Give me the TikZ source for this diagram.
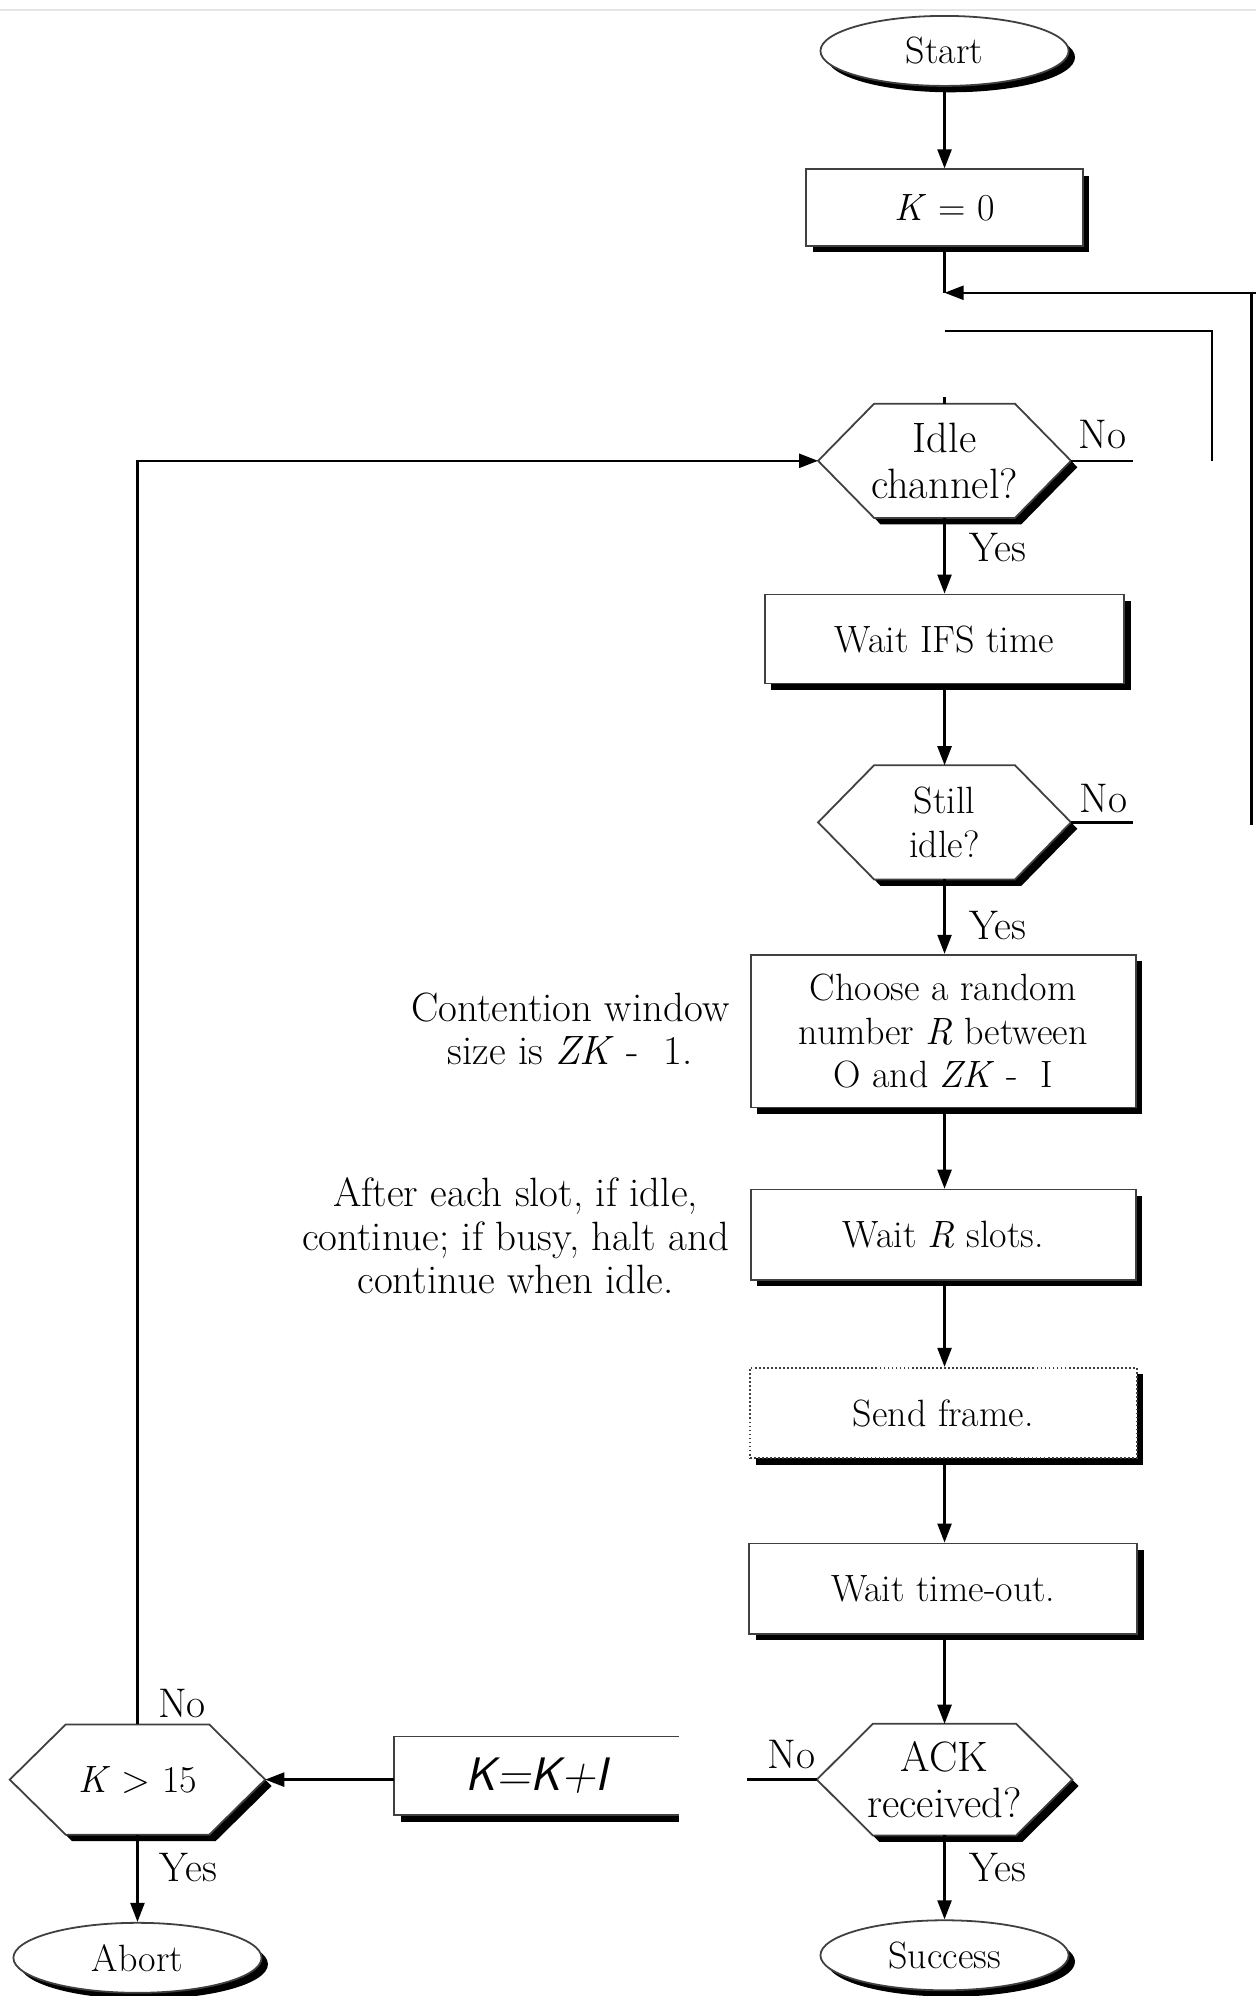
\documentclass[tikz,border=0pt]{standalone}
\usetikzlibrary{shapes.geometric,arrows.meta,shadows,backgrounds,calc}
\newcommand\hexshape[1]{%
  \fill[black] ([shift={(0.1cm,-0.1cm)}]#1.west) -- ([shift={(0.98cm,-0.1cm)}]#1.north west) -- ([shift={(-0.78cm,-0.1cm)}]#1.north east) -- ([shift={(0.1cm,-0.1cm)}]#1.east) -- ([shift={(-0.78cm,-0.1cm)}]#1.south east) -- ([shift={(0.98cm,-0.1cm)}]#1.south west) -- cycle;
  \filldraw[fill=white, draw=black!75, line width=0.8pt] (#1.west) -- ([xshift=0.88cm]#1.north west) -- ([xshift=-0.88cm]#1.north east) -- (#1.east) -- ([xshift=-0.88cm]#1.south east) -- ([xshift=0.88cm]#1.south west) -- cycle;}
\begin{document}
\begin{tikzpicture}[x=0.02cm,y=-0.02cm,
  font=\fontsize{17pt}{19.4pt}\selectfont,
  line/.style={line width=1.1pt, draw=black},
  arr/.style={line, -{Triangle[length=0.3cm,width=0.22cm]}},
  shad/.style={drop shadow={shadow xshift=0.1cm, shadow yshift=-0.1cm, opacity=1, fill=black}},
  procbox/.style={rectangle, draw=black!75, line width=0.8pt, fill=white, shad, align=center, inner sep=2pt},
  term/.style={ellipse, draw=black!75, line width=0.8pt, fill=white, shad, inner sep=0pt, minimum width=3.9cm, minimum height=1.1cm},
  hexnode/.style={rectangle, draw=none, align=center, minimum width=3.96cm, minimum height=1.78cm, inner sep=0pt},
  bigtext/.style={font=\fontsize{19pt}{20.5pt}\selectfont},
  lbl/.style={inner sep=1pt, font=\fontsize{18.5pt}{20pt}\selectfont},
  note/.style={align=center, font=\fontsize{18.3pt}{19.4pt}\selectfont, inner sep=0pt},
]
\useasboundingbox (0,0) rectangle (987,1568);

% nodes
\node[term] (start) at (742,40) {Start};
\node[procbox, minimum width=4.35cm, minimum height=1.2cm] (k0) at (742,163) {\textit{K} = 0};
\node[hexnode, bigtext] (idle) at (742,362) {Idle\\channel?};
\node[procbox, minimum width=5.65cm, minimum height=1.4cm] (ifs) at (742,502) {Wait IFS time};
\node[hexnode] (still) at (742,646) {Still\\idle?};
\node[procbox, minimum width=6.05cm, minimum height=2.4cm] (choose) at (741,810) {Choose a random\\number \textit{R} between\\O and \textit{ZK} -\ \ I};
\node[procbox, minimum width=6.05cm, minimum height=1.42cm] (waitr) at (741,970) {Wait \textit{R} slots.};
\node[procbox, densely dotted, minimum width=6.08cm, minimum height=1.42cm] (send) at (741,1110) {Send frame.};
\node[procbox, minimum width=6.1cm, minimum height=1.42cm] (tout) at (741,1248) {Wait time-out.};
\node[hexnode, bigtext, minimum width=4.0cm, minimum height=1.74cm] (ack) at (742,1398) {ACK\\received?};
\node[term] (succ) at (742,1536) {Success};
\node[hexnode, minimum width=4.0cm, minimum height=1.72cm] (k15) at (108,1398) {\textit{K} > 15};
\node[term] (abort) at (108,1538) {Abort};
\node[rectangle, minimum width=4.46cm, minimum height=1.22cm, font={\fontsize{21pt}{22pt}\selectfont\sffamily\itshape}] (kinc) at (421.5,1395) {K=K+I};

% hexagons and white page on background
\begin{scope}[on background layer]
  \fill[white] (0,0) rectangle (987,1568);
  \draw[black!10, line width=0.8pt] (0,8) -- (987,8);
  \hexshape{idle}\hexshape{still}\hexshape{ack}\hexshape{k15}
\end{scope}

% open box K=K+I
\draw[black!75, line width=0.8pt] (kinc.north east) -- (kinc.north west) -- (kinc.south west) -- (kinc.south east);
\draw[line width=3pt] ([shift={(0.1cm,-0.06cm)}]kinc.south west) -- ([yshift=-0.06cm]kinc.south east);

% coordinates
\coordinate (j1) at (742,230);
\coordinate (rc) at (983,230);
\coordinate (r1) at (987,230);
\coordinate (r2) at (983,648);
\coordinate (a1) at (742,260);
\coordinate (a2) at (952,260);
\coordinate (a3) at (952,362);
\coordinate (tk) at (742,312);
\coordinate (n1) at (890,362);
\coordinate (n2) at (890,646);
\coordinate (n3) at (587,1398);

% connectors
\draw[arr] (start.south) -- (k0.north);
\draw[line] (k0.south) -- (j1);
\draw[arr] (r2) -- (rc) -- (j1);
\draw[line] (rc) -- (r1);
\draw[line] (a1) -- (a2) -- (a3);
\draw[line] (tk) -- (idle.north);
\draw[line] (idle.east) -- (n1);
\draw[line] (still.east) -- (n2);
\draw[arr] (idle.south) -- (ifs.north);
\draw[arr] (ifs.south) -- (still.north);
\draw[arr] (still.south) -- (still.south |- choose.north);
\draw[arr] (choose.south -| still.south) -- (still.south |- waitr.north);
\draw[arr] (waitr.south -| still.south) -- (still.south |- send.north);
\draw[arr] (send.south -| still.south) -- (still.south |- tout.north);
\draw[arr] (tout.south -| still.south) -- (ack.north);
\draw[arr] (ack.south) -- (succ.north);
\draw[line] (ack.west) -- (n3);
\draw[arr] (kinc.west |- k15.east) -- (k15.east);
\draw[arr] (k15.north) |- (idle.west);
\draw[arr] (k15.south) -- (abort.north);

% labels
\node[lbl] (lno1) at (866,341) {No};
\node[lbl] (lyes1) at (784,430) {Yes};
\node[lbl] (lno2) at (867,627) {No};
\node[lbl] (lyes2) at (784,727) {Yes};
\node[lbl] (lno3) at (622,1378) {No};
\node[lbl] (lyes3) at (784,1467) {Yes};
\node[lbl] (lno4) at (143,1338) {No};
\node[lbl] (lyes4) at (148,1467) {Yes};

% notes
\node[note] (cw) at (448,808) {Contention window\\size is \textit{ZK} -\ \ 1.};
\node[note] (aft) at (405,971) {After each slot, if idle,\\continue; if busy, halt and\\continue when idle.};
\end{tikzpicture}
\end{document}
